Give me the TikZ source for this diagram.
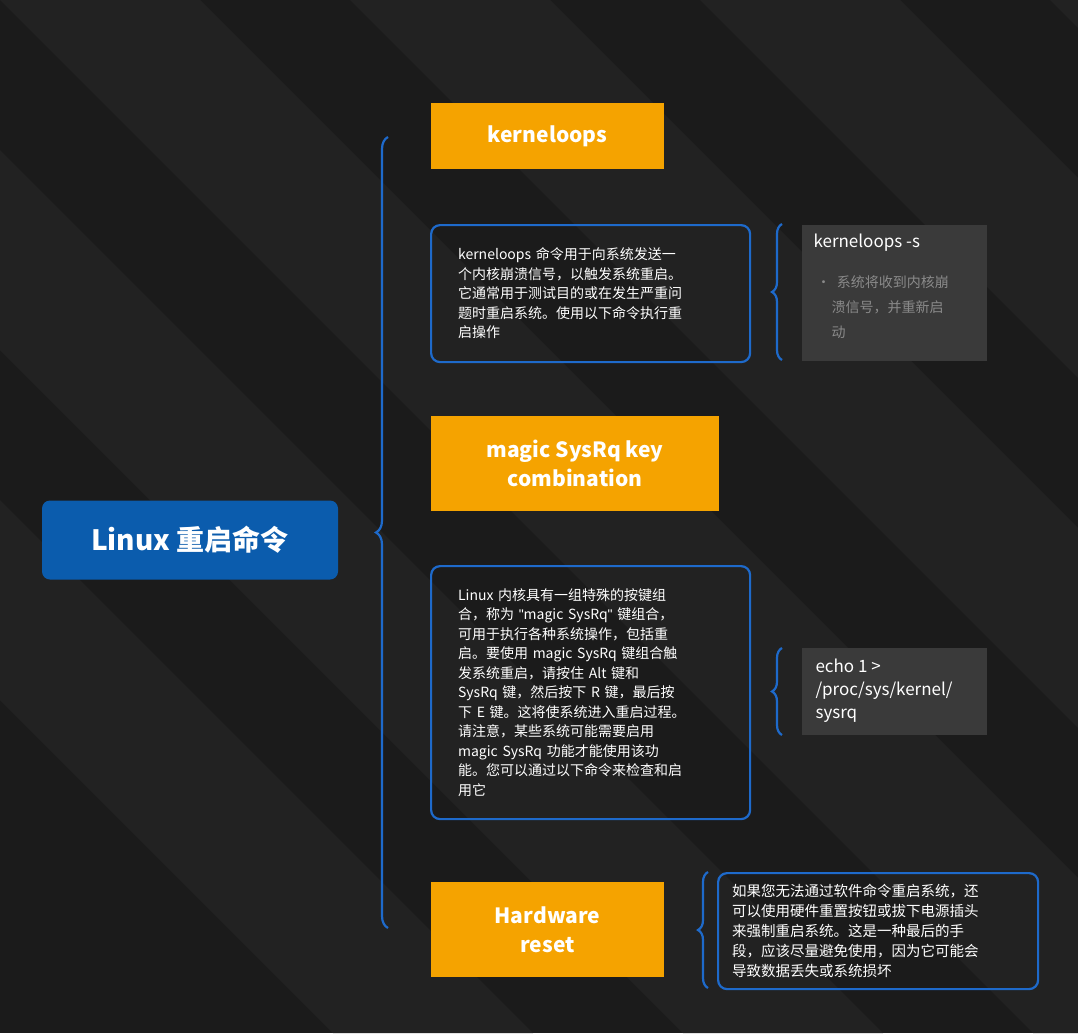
\documentclass[tikz,border=0pt]{standalone}
\usepackage{fontspec}
\setmainfont{Noto Sans CJK SC}
\newfontfamily\latinfont{Liberation Sans}
\usetikzlibrary{decorations.pathreplacing}
\definecolor{bgdark}{HTML}{1B1B1B}
\definecolor{bgband}{HTML}{222222}
\definecolor{orangebox}{HTML}{F5A300}
\definecolor{bluemain}{HTML}{0B5CAD}
\definecolor{blueline}{HTML}{1E6ACB}
\definecolor{graybox}{HTML}{3A3A3A}
\definecolor{graytext}{HTML}{8A8A8A}
\tikzset{
  rootbox/.style={fill=bluemain, rounded corners=8pt, minimum width=296pt, minimum height=79pt, text=white, font=\bfseries\fontsize{28}{32}\selectfont},
  titlebox/.style={fill=orangebox, text=white, font=\bfseries\fontsize{21}{29}\selectfont, align=center, minimum height=66pt},
  descbox/.style={draw=blueline, line width=2.2pt, rounded corners=9pt, text=white, font=\fontsize{14}{19.5}\selectfont, align=left, inner xsep=27pt, inner ysep=10pt, anchor=north west},
  cmdbox/.style={fill=graybox, anchor=north west, minimum width=185pt, align=left, inner sep=0pt},
  bracket/.style={draw=blueline, line width=2.2pt, decorate, decoration={brace, amplitude=#1}},
}
\begin{document}
\begin{tikzpicture}[x=1pt,y=-1pt]
    %fond
    \fill[bgdark] (0,0) rectangle (1078,1033);
    \useasboundingbox (0,0) rectangle (1078,1033);
    \foreach \s in {-700,-350,0,350,700,1050} {
      \fill[bgband] (\s,0) -- (\s+200,0) -- (\s+1233,1033) -- (\s+1033,1033) -- cycle;
    }
    %gyoker
    \node[rootbox] (root) at (190,540) {Linux 重启命令};
    %agak
    \node[titlebox, minimum width=233pt] (kern) at (547.5,136) {kerneloops};
    \node[descbox, text width=265pt, minimum height=137pt] (kerndesc) at (430,224) {kerneloops 命令用于向系统发送一\\个内核崩溃信号，以触发系统重启。\\它通常用于测试目的或在发生严重问\\题时重启系统。使用以下命令执行重\\启操作};
    \node[cmdbox, minimum height=136pt] (kerncmd) at (802,225) {};
    \node[anchor=north west, text=white, font=\fontsize{17}{20}\selectfont] (kerncmdt) at (810,230) {kerneloops -s};
    \node[anchor=north west, text=graytext, font=\fontsize{14}{25}\selectfont, align=left] (kerncmdb) at (813,272) {\textbullet\ \ 系统将收到内核崩\\\hspace*{15pt}溃信号，并重新启\\\hspace*{15pt}动};
    \node[titlebox, minimum width=288pt, minimum height=95pt] (magic) at (575,463.5) {magic SysRq key\\combination};
    \node[descbox, text width=265pt, minimum height=253pt] (magicdesc) at (430,565) {Linux 内核具有一组特殊的按键组\\合，称为 {\latinfont"}magic SysRq{\latinfont"} 键组合，\\可用于执行各种系统操作，包括重\\启。要使用 magic SysRq 键组合触\\发系统重启，请按住 Alt 键和\\SysRq 键，然后按下 R 键，最后按\\下 E 键。这将使系统进入重启过程。\\请注意，某些系统可能需要启用\\magic SysRq 功能才能使用该功\\能。您可以通过以下命令来检查和启\\用它};
    \node[cmdbox, minimum height=87pt] (magiccmd) at (802,648) {};
    \node[anchor=north west, text=white, font=\fontsize{17}{23}\selectfont, align=left] (magiccmdt) at (812,655) {echo 1 >\\/proc/sys/kernel/\\sysrq};
    \node[titlebox, minimum width=233pt, minimum height=95pt] (hard) at (547.5,929.5) {Hardware\\reset};
    \node[descbox, text width=292pt, minimum height=116pt, inner xsep=14pt, font=\fontsize{14.5}{20}\selectfont] (harddesc) at (717,872) {如果您无法通过软件命令重启系统，还\\可以使用硬件重置按钮或拔下电源插头\\来强制重启系统。这是一种最后的手\\段，应该尽量避免使用，因为它可能会\\导致数据丢失或系统损坏};
    %zarojelek
    \draw[bracket=12pt] (388,928) -- (388,137);
    \draw[bracket=10pt] (782,360) -- (782,224);
    \draw[bracket=10pt] (782,735) -- (782,648);
    \draw[bracket=10pt] (708,988) -- (708,872);
\end{tikzpicture}
\end{document}
